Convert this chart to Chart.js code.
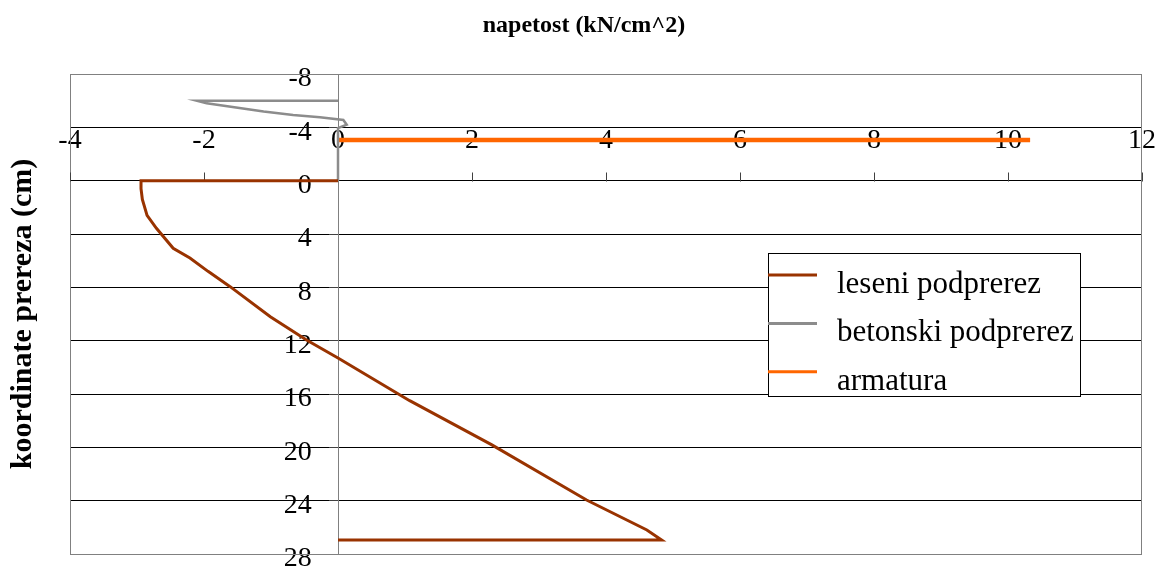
<!DOCTYPE html>
<html>
<head>
<meta charset="utf-8">
<script src="https://cdn.jsdelivr.net/npm/chart.js@4/dist/chart.umd.min.js"></script>
<style>
  html, body { margin: 0; padding: 0; background: #fff; }
  #wrap { width: 1168px; height: 567px; }
</style>
</head>
<body>
<div id="wrap"><canvas id="stressChart"></canvas></div>
<script>
// Series data (x = napetost, y = koordinata)
const lesX = [0, -2.94, -2.94, -2.92, -2.85, -2.71, -2.46, -2.21, -1.94, -1.61, -1.01, -0.47, 0, 1.07, 2.29, 3.71, 4.61, 4.83, 0];
const lesY = [0, 0, 0.6, 1.4, 2.6, 3.57, 5.07, 5.8, 6.8, 7.95, 10.2, 11.95, 13.3, 16.5, 19.8, 23.95, 26.2, 26.95, 26.95];
const betX = [0, -2.11, -1.96, -1.11, -0.67, -0.27, 0.08, 0.13, 0, 0];
const betY = [-6, -6, -5.8, -5.18, -4.93, -4.75, -4.55, -4.2, -3.95, 0];
const armX = [0, 10.33];
const armY = [-3.05, -3.05];
const seriesNames = ['leseni podprerez', 'betonski podprerez', 'armatura'];
const xTicks = [-4, -2, 0, 2, 4, 6, 8, 10, 12];
const yTicks = [-8, -4, 0, 4, 8, 12, 16, 20, 24, 28];

const serif = "'Liberation Serif', 'Times New Roman', serif";
const pts = (xs, ys) => xs.map((x, i) => ({ x: x, y: ys[i] }));

// scales placed on data values must not take layout room
const noRoomX = s => { s.height = 0; s.paddingLeft = 0; s.paddingRight = 0; s.paddingTop = 0; s.paddingBottom = 0; };
const noRoomY = s => { s.width = 0; s.paddingLeft = 0; s.paddingRight = 0; s.paddingTop = 0; s.paddingBottom = 0; };

// frame, x tick marks on y=0 and the legend box
const extras = {
    id: 'extras',
    beforeDatasetsDraw(chart) {
        const { ctx, chartArea: a, scales } = chart;
        ctx.save();
        ctx.strokeStyle = '#808080';
        ctx.lineWidth = 1;
        ctx.strokeRect(a.left + 0.5, a.top + 0.5, a.right - a.left - 1, a.bottom - a.top);
        const y0 = Math.round(scales.y.getPixelForValue(0)) + 0.5;
        ctx.strokeStyle = '#404040';
        xTicks.forEach(v => {
            if (v === 0) return;
            const px = Math.round(scales.x.getPixelForValue(v)) + 0.5;
            ctx.beginPath();
            ctx.moveTo(px, y0);
            ctx.lineTo(px, y0 - 9);
            ctx.stroke();
        });
        ctx.restore();
    },
    afterDraw(chart) {
        const { ctx } = chart;
        ctx.save();
        const bx = 768, by = 253, bw = 312, bh = 143;
        ctx.fillStyle = '#fff';
        ctx.fillRect(bx, by, bw, bh);
        ctx.strokeStyle = '#000';
        ctx.lineWidth = 1;
        ctx.strokeRect(bx + 0.5, by + 0.5, bw, bh);
        ctx.font = '31px ' + serif;
        ctx.textBaseline = 'alphabetic';
        ctx.textAlign = 'left';
        chart.data.datasets.forEach((ds, i) => {
            const ly = 275 + i * 48.4;
            ctx.strokeStyle = ds.borderColor;
            ctx.lineWidth = 3;
            ctx.beginPath();
            ctx.moveTo(bx, ly);
            ctx.lineTo(bx + 49, ly);
            ctx.stroke();
            ctx.fillStyle = '#000';
            ctx.fillText(ds.label, bx + 69, ly + 18);
        });
        ctx.restore();
    }
};

const ctx = document.getElementById('stressChart').getContext('2d');
const stressChart = new Chart(ctx, {
    type: 'scatter',
    data: {
        datasets: [{
            label: seriesNames[0],
            data: pts(lesX, lesY),
            borderColor: '#993300',
            borderWidth: 3
        }, {
            label: seriesNames[1],
            data: pts(betX, betY),
            borderColor: '#8c8c8c',
            borderWidth: 2.5
        }, {
            label: seriesNames[2],
            data: pts(armX, armY),
            borderColor: '#ff6600',
            borderWidth: 4.5
        }]
    },
    options: {
        responsive: true,
        maintainAspectRatio: false,
        animation: false,
        showLine: true,
        elements: { point: { radius: 0, hoverRadius: 0 }, line: { tension: 0 } },
        layout: { padding: { left: 0, right: 0, top: 0, bottom: 13 } },
        plugins: {
            legend: { display: false },
            tooltip: { enabled: false },
            title: {
                display: true,
                text: 'napetost (kN/cm^2)',
                color: '#000',
                font: { family: serif, size: 24, weight: 'bold' },
                padding: { top: 11, bottom: 34.2 }
            }
        },
        scales: {
            x: {
                type: 'linear',
                min: -4,
                max: 12,
                position: { y: -4 },
                afterFit: noRoomX,
                afterBuildTicks: s => { s.ticks = xTicks.map(v => ({ value: v })); },
                grid: { display: false },
                border: { display: false },
                ticks: {
                    color: '#000',
                    font: { family: serif, size: 28 },
                    padding: -11,
                    maxRotation: 0,
                    autoSkip: false
                }
            },
            y: {
                type: 'linear',
                min: -8,
                max: 28,
                reverse: true,
                position: { x: 0 },
                afterFit: noRoomY,
                afterBuildTicks: s => { s.ticks = yTicks.map(v => ({ value: v })); },
                grid: {
                    color: c => (c.tick && (c.tick.value === -8 || c.tick.value === 28)) ? '#808080' : '#000',
                    lineWidth: 1,
                    tickLength: 9,
                    tickColor: '#404040'
                },
                border: { display: true, color: '#808080', width: 1 },
                ticks: { display: false }
            },
            // tick labels of the y axis, set just left of x = 0
            yLabels: {
                type: 'linear',
                min: -8,
                max: 28,
                reverse: true,
                position: { x: -0.39 },
                afterFit: noRoomY,
                afterBuildTicks: s => { s.ticks = yTicks.map(v => ({ value: v })); },
                grid: { display: false },
                border: { display: false },
                ticks: {
                    color: '#000',
                    font: { family: serif, size: 28 },
                    padding: 0,
                    labelOffset: 5,
                    autoSkip: false
                }
            },
            // left strip holding the y axis title
            yTitle: {
                type: 'linear',
                min: 0,
                max: 1,
                position: 'left',
                afterFit: s => { s.width = 70; },
                grid: { display: false },
                border: { display: false },
                ticks: { display: false },
                title: {
                    display: true,
                    text: 'koordinate prereza (cm)',
                    color: '#000',
                    font: { family: serif, size: 30, weight: 'bold' },
                    padding: { top: 5, bottom: 0 }
                }
            },
            // right margin strip
            yRight: {
                type: 'linear',
                min: 0,
                max: 1,
                position: 'right',
                afterFit: s => { s.width = 26; },
                grid: { display: false },
                border: { display: false },
                ticks: { display: false }
            }
        }
    },
    plugins: [extras]
});
</script>
</body>
</html>
